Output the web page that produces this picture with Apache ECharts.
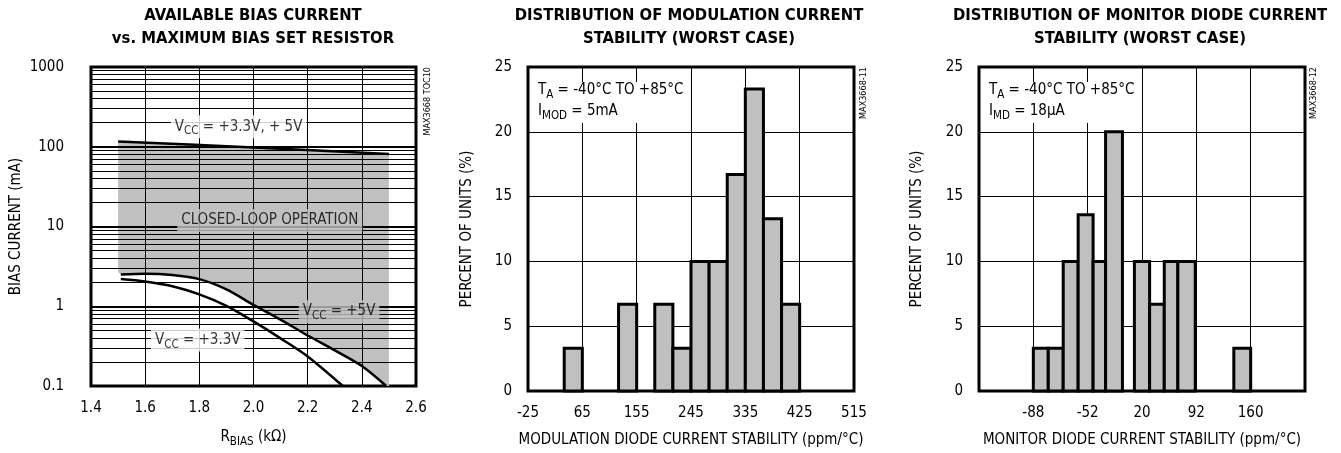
<!DOCTYPE html>
<html>
<head>
<meta charset="utf-8">
<script src="https://cdn.jsdelivr.net/npm/echarts@6/dist/echarts.min.js"></script>
<style>
html, body { margin: 0; padding: 0; background: #fff; }
#chart { width: 1341px; height: 453px; }
</style>
</head>
<body>
<div id="chart"></div>
<script>
var FONT = "'Liberation Sans Narrow', 'DejaVu Sans Condensed', 'Liberation Sans', sans-serif";

// left: available bias current vs RBIAS (log y)
var rbiasGrid = [1.6, 1.8, 2.0, 2.2, 2.4];
var biasDecades = [1, 10, 100];
var biasMinor = [];
[0.1, 1, 10, 100].forEach(function (d) {
    for (var k = 2; k <= 9; k++) biasMinor.push(+(d * k).toPrecision(3));
});
var topX = [1.5, 2.0, 2.5];
var topY = [116, 98, 81];
var vcc5X = [1.51, 1.6, 1.7, 1.8, 1.9, 2.0, 2.1, 2.2, 2.3, 2.4, 2.49];
var vcc5Y = [2.5, 2.55, 2.46, 2.19, 1.63, 1.04, 0.68, 0.43, 0.28, 0.178, 0.1];
var vcc33X = [1.51, 1.6, 1.7, 1.8, 1.9, 2.0, 2.1, 2.2, 2.33];
var vcc33Y = [2.19, 2.04, 1.78, 1.41, 1.01, 0.645, 0.396, 0.235, 0.1];
var shadeLeft = [1.5, 2.7];
var shadeRight = [2.5, 0.1];
var leftNotes = [
    { pos: [1.945, 178], text: '{a|V}{s|CC}{a| = +3.3V, + 5V}', bg: '#fff' },
    { pos: [2.06, 11.9], text: '{a|CLOSED-LOOP OPERATION}', bg: '#c0c0c0' },
    { pos: [2.316, 0.857], text: '{a|V}{s|CC}{a| = +5V}', bg: '#c0c0c0' },
    { pos: [1.794, 0.377], text: '{a|V}{s|CC}{a| = +3.3V}', bg: '#fff' }
];

// middle: modulation current stability histogram (ppm/°C)
var modTicks = [-25, 65, 155, 245, 335, 425, 515];
var modStart = [35, 125, 185, 215, 245, 275, 305, 335, 365, 395];
var modEnd = [65, 155, 215, 245, 275, 305, 335, 365, 395, 425];
var modPct = [3.3, 6.7, 6.7, 3.3, 10, 10, 16.7, 23.3, 13.3, 6.7];

// right: monitor diode current stability histogram (tick-index units)
var monTicks = ['', '-88', '-52', '20', '92', '160', ''];
var monStart = [1.0, 1.275, 1.55, 1.825, 2.1, 2.33, 2.86, 3.14, 3.41, 3.66, 4.69];
var monEnd = [1.275, 1.55, 1.825, 2.1, 2.33, 2.64, 3.14, 3.41, 3.66, 3.98, 5.0];
var monPct = [3.3, 3.3, 10, 13.6, 10, 20, 10, 6.7, 10, 10, 3.3];

var rich = {
    a: { fontFamily: FONT, fontSize: 15, fontWeight: 'normal', color: '#000', lineHeight: 21 },
    s: { fontFamily: FONT, fontSize: 11.5, fontWeight: 'normal', color: '#000', lineHeight: 14, verticalAlign: 'bottom' }
};

function zip(xs, ys) {
    return xs.map(function (x, i) { return [x, ys[i]]; });
}

function barItem(offset) {
    return function (params, api) {
        var p0 = api.coord([api.value(0) + offset, 0]);
        var p1 = api.coord([api.value(1) + offset, api.value(2)]);
        return {
            type: 'rect',
            shape: { x: p0[0], y: p1[1], width: p1[0] - p0[0], height: p0[1] - p1[1] },
            style: { fill: '#c0c0c0', stroke: '#000', lineWidth: 3 }
        };
    };
}

var chart = echarts.init(document.getElementById('chart'));
var axisFont = { fontFamily: FONT, fontSize: 15, color: '#000' };
var nameFont = { fontFamily: FONT, fontSize: 15, color: '#000' };
var titleStyle = { fontFamily: FONT, fontSize: 16.5, fontWeight: 'bold', color: '#000', lineHeight: 23 };

var leftMarks = [];
biasMinor.forEach(function (v) { leftMarks.push({ yAxis: v, lineStyle: { width: 1 } }); });
biasDecades.forEach(function (v) { leftMarks.push({ yAxis: v, lineStyle: { width: 2 } }); });
rbiasGrid.forEach(function (v) { leftMarks.push({ xAxis: v, lineStyle: { width: 1 } }); });

var shadePts = zip(topX, topY).concat([shadeRight]).concat(zip(vcc5X, vcc5Y).reverse()).concat([shadeLeft]);

function note(text, top, left) {
    return {
        text: text, left: left, top: top,
        backgroundColor: '#fff', padding: [1, 4],
        textStyle: { fontWeight: 'normal', rich: rich }
    };
}

var option = {
    animation: false,
    backgroundColor: '#fff',
    title: [
        { text: 'AVAILABLE BIAS CURRENT\nvs. MAXIMUM BIAS SET RESISTOR', left: 253, top: 4, textAlign: 'center', padding: 0, textStyle: titleStyle },
        { text: 'DISTRIBUTION OF MODULATION CURRENT\nSTABILITY (WORST CASE)', left: 689, top: 4, textAlign: 'center', padding: 0, textStyle: titleStyle },
        { text: 'DISTRIBUTION OF MONITOR DIODE CURRENT\nSTABILITY (WORST CASE)', left: 1140, top: 4, textAlign: 'center', padding: 0, textStyle: titleStyle },
        note('{a|T}{s|A}{a| = -40°C TO +85°C}\n{a|I}{s|MOD}{a| = 5mA}', 79, 534),
        note('{a|T}{s|A}{a| = -40°C TO +85°C}\n{a|I}{s|MD}{a| = 18µA}', 79, 985)
    ],
    graphic: [
        { type: 'text', x: 428, y: 67, rotation: Math.PI / 2, style: { text: 'MAX3668 TOC10', font: '9px ' + FONT, fill: '#000', align: 'right', verticalAlign: 'middle' } },
        { type: 'text', x: 864, y: 67, rotation: Math.PI / 2, style: { text: 'MAX3668-11', font: '9px ' + FONT, fill: '#000', align: 'right', verticalAlign: 'middle' } },
        { type: 'text', x: 1314, y: 67, rotation: Math.PI / 2, style: { text: 'MAX3668-12', font: '9px ' + FONT, fill: '#000', align: 'right', verticalAlign: 'middle' } }
    ],
    grid: [
        { left: 91, top: 67, width: 325, height: 325, show: true, borderColor: '#000', borderWidth: 3 },
        { left: 528, top: 67, width: 326, height: 325, show: true, borderColor: '#000', borderWidth: 3 },
        { left: 979, top: 67, width: 326, height: 325, show: true, borderColor: '#000', borderWidth: 3 }
    ],
    xAxis: [
        {
            gridIndex: 0, type: 'value', min: 1.4, max: 2.6, interval: 0.2,
            axisLine: { show: false }, axisTick: { show: false }, splitLine: { show: false },
            axisLabel: Object.assign({ margin: 15, formatter: function (v) { return v.toFixed(1); } }, axisFont),
            name: '{a|R}{s|BIAS}{a| (kΩ)}', nameLocation: 'middle', nameGap: 41,
            nameTextStyle: { rich: rich }
        },
        {
            gridIndex: 1, type: 'value', min: 0, max: 540, interval: 90,
            axisLine: { show: false }, axisTick: { show: false },
            splitLine: { show: true, lineStyle: { color: '#000', width: 1 } },
            axisLabel: Object.assign({ margin: 15, formatter: function (v) { return String(modTicks[Math.round(v / 90)]); } }, axisFont),
            name: 'MODULATION DIODE CURRENT STABILITY (ppm/°C)', nameLocation: 'middle', nameGap: 42,
            nameTextStyle: nameFont
        },
        {
            gridIndex: 2, type: 'value', min: 0, max: 6, interval: 1,
            axisLine: { show: false }, axisTick: { show: false },
            splitLine: { show: true, lineStyle: { color: '#000', width: 1 } },
            axisLabel: Object.assign({ margin: 15, formatter: function (v) { return monTicks[Math.round(v)]; } }, axisFont),
            name: 'MONITOR DIODE CURRENT STABILITY (ppm/°C)', nameLocation: 'middle', nameGap: 42,
            nameTextStyle: nameFont
        }
    ],
    yAxis: [
        {
            gridIndex: 0, type: 'log', logBase: 10, min: 0.1, max: 1000,
            axisLine: { show: false }, axisTick: { show: false }, splitLine: { show: false },
            axisLabel: Object.assign({ margin: 27, formatter: function (v) { return String(parseFloat(v.toPrecision(6))); } }, axisFont),
            name: 'BIAS CURRENT (mA)', nameLocation: 'middle', nameGap: 67, nameTextStyle: nameFont
        },
        {
            gridIndex: 1, type: 'value', min: 0, max: 25, interval: 5,
            axisLine: { show: false }, axisTick: { show: false },
            splitLine: { show: true, lineStyle: { color: '#000', width: 1 } },
            axisLabel: Object.assign({ margin: 16 }, axisFont),
            name: 'PERCENT OF UNITS (%)', nameLocation: 'middle', nameGap: 53, nameTextStyle: nameFont
        },
        {
            gridIndex: 2, type: 'value', min: 0, max: 25, interval: 5,
            axisLine: { show: false }, axisTick: { show: false },
            splitLine: { show: true, lineStyle: { color: '#000', width: 1 } },
            axisLabel: Object.assign({ margin: 16 }, axisFont),
            name: 'PERCENT OF UNITS (%)', nameLocation: 'middle', nameGap: 54, nameTextStyle: nameFont
        }
    ],
    series: [
        {
            type: 'custom', xAxisIndex: 0, yAxisIndex: 0, z: 1,
            data: [[2.0, 10]],
            renderItem: function (params, api) {
                return {
                    type: 'polygon',
                    shape: { points: shadePts.map(function (p) { return api.coord(p); }) },
                    style: { fill: '#c0c0c0' }
                };
            }
        },
        {
            type: 'line', xAxisIndex: 0, yAxisIndex: 0, z: 3, data: [],
            markLine: {
                silent: true, symbol: ['none', 'none'], animation: false,
                label: { show: false },
                lineStyle: { color: '#000', type: 'solid', width: 1 },
                data: leftMarks
            }
        },
        { type: 'line', xAxisIndex: 0, yAxisIndex: 0, z: 4, showSymbol: false, smooth: 0.3, lineStyle: { color: '#000', width: 2.5 }, data: zip(topX, topY) },
        { type: 'line', xAxisIndex: 0, yAxisIndex: 0, z: 4, showSymbol: false, smooth: 0.3, lineStyle: { color: '#000', width: 2.5 }, data: zip(vcc5X, vcc5Y) },
        { type: 'line', xAxisIndex: 0, yAxisIndex: 0, z: 4, showSymbol: false, smooth: 0.3, lineStyle: { color: '#000', width: 2.5 }, data: zip(vcc33X, vcc33Y) },
        {
            type: 'scatter', xAxisIndex: 0, yAxisIndex: 0, z: 6, symbolSize: 0, silent: true,
            data: leftNotes.map(function (n) {
                return {
                    value: n.pos,
                    label: { show: true, position: 'inside', formatter: n.text, backgroundColor: n.bg, padding: [1, 4], rich: rich }
                };
            })
        },
        {
            type: 'custom', xAxisIndex: 1, yAxisIndex: 1, z: 3,
            renderItem: barItem(-modTicks[0]),
            data: modStart.map(function (s, i) { return [s, modEnd[i], modPct[i]]; })
        },
        {
            type: 'custom', xAxisIndex: 2, yAxisIndex: 2, z: 3,
            renderItem: barItem(0),
            data: monStart.map(function (s, i) { return [s, monEnd[i], monPct[i]]; })
        }
    ]
};

chart.setOption(option);
</script>
</body>
</html>
